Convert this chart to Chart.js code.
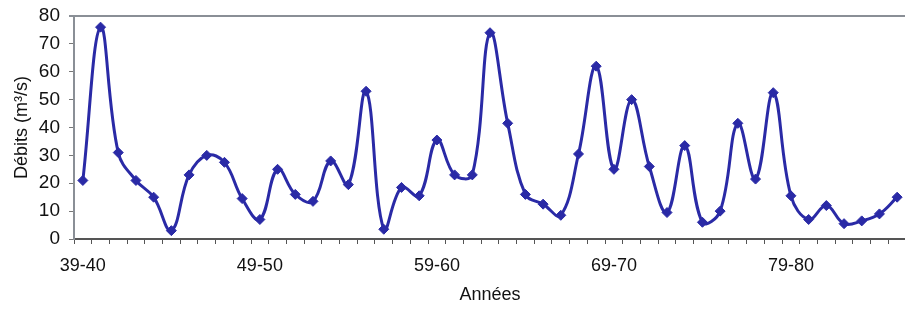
<!DOCTYPE html>
<html>
<head>
<meta charset="utf-8">
<script src="https://cdn.jsdelivr.net/npm/chart.js@4/dist/chart.umd.min.js"></script>
<style>
    html, body { margin: 0; padding: 0; background: #fff; overflow: hidden; }
    #wrap { width: 912px; height: 312px; }
</style>
</head>
<body>
<div id="wrap"><canvas id="chart" width="912" height="312"></canvas></div>
<script>
// Débits annuels
const years = [
    '39-40', '40-41', '41-42', '42-43', '43-44', '44-45', '45-46', '46-47', '47-48', '48-49',
    '49-50', '50-51', '51-52', '52-53', '53-54', '54-55', '55-56', '56-57', '57-58', '58-59',
    '59-60', '60-61', '61-62', '62-63', '63-64', '64-65', '65-66', '66-67', '67-68', '68-69',
    '69-70', '70-71', '71-72', '72-73', '73-74', '74-75', '75-76', '76-77', '77-78', '78-79',
    '79-80', '80-81', '81-82', '82-83', '83-84', '84-85', '85-86'
];
const debits = [
    21, 76, 31, 21, 15, 3, 23, 30, 27.5, 14.5,
    7, 25, 16, 13.5, 28, 19.5, 53, 3.5, 18.5, 15.5,
    35.5, 23, 23, 74, 41.5, 16, 12.5, 8.5, 30.5, 62,
    25, 50, 26, 9.5, 33.5, 6, 10, 41.5, 21.5, 52.5,
    15.5, 7, 12, 5.5, 6.5, 9, 15
];
const yTicks = [0, 10, 20, 30, 40, 50, 60, 70, 80];
const shownYears = ['39-40', '49-50', '59-60', '69-70', '79-80'];

const lineColor = '#2a2aa6';
const txtFont = { family: 'Liberation Sans, Arial, sans-serif', size: 18 };

// ligne grise en haut du cadre
const topBorder = {
    id: 'topBorder',
    afterDraw(chart) {
        const { ctx, chartArea } = chart;
        ctx.save();
        ctx.strokeStyle = '#8a8f96';
        ctx.lineWidth = 2;
        ctx.beginPath();
        ctx.moveTo(chartArea.left - 5, chartArea.top);
        ctx.lineTo(chartArea.right, chartArea.top);
        ctx.stroke();
        ctx.restore();
    }
};

new Chart(document.getElementById('chart'), {
    type: 'line',
    data: {
        labels: years,
        datasets: [{
            data: debits,
            borderColor: lineColor,
            backgroundColor: lineColor,
            borderWidth: 3,
            tension: 0.4,
            pointStyle: 'rectRot',
            pointRadius: 5,
            pointBorderWidth: 1,
            pointBackgroundColor: lineColor,
            pointBorderColor: lineColor
        }]
    },
    options: {
        responsive: false,
        animation: false,
        layout: { padding: { top: 16, right: 0, left: 0, bottom: 0 } },
        plugins: {
            legend: { display: false },
            tooltip: { enabled: false }
        },
        scales: {
            x: {
                type: 'category',
                offset: true,
                afterFit: (s) => { s.height = 73; },
                grid: {
                    offset: true,
                    drawOnChartArea: false,
                    drawTicks: true,
                    tickLength: 5,
                    color: '#555'
                },
                border: { color: '#555', width: 2 },
                ticks: {
                    autoSkip: false,
                    maxRotation: 0,
                    padding: 11,
                    color: '#111',
                    font: txtFont,
                    callback: function (v, i) {
                        const lab = years[i];
                        return shownYears.includes(lab) ? lab : '';
                    }
                },
                title: {
                    display: true,
                    text: 'Années',
                    color: '#111',
                    font: txtFont,
                    padding: { top: 0, bottom: 6 }
                }
            },
            y: {
                min: 0,
                max: 80,
                afterFit: (s) => { s.width = 74; s.paddingTop = 0; s.paddingBottom = 0; },
                afterBuildTicks: (s) => { s.ticks = yTicks.map(v => ({ value: v })); },
                grid: {
                    drawOnChartArea: false,
                    drawTicks: true,
                    tickLength: 5,
                    color: '#777'
                },
                border: { color: '#8a8f96', width: 2 },
                ticks: {
                    padding: 9,
                    color: '#111',
                    font: { family: 'Liberation Sans, Arial, sans-serif', size: 19 }
                },
                title: {
                    display: true,
                    text: 'Débits (m³/s)',
                    color: '#111',
                    font: txtFont,
                    padding: { top: 11, bottom: 0 }
                }
            }
        }
    },
    plugins: [topBorder]
});
</script>
</body>
</html>
